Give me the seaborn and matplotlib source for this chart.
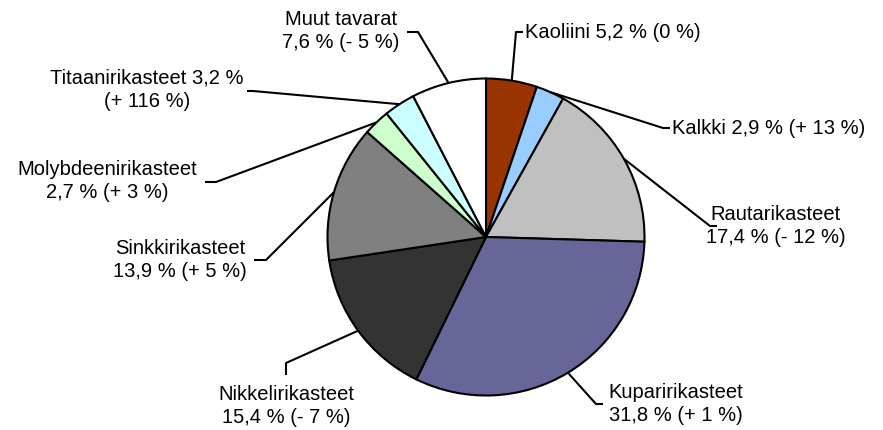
import numpy as np
import matplotlib
matplotlib.use("Agg")
import matplotlib.pyplot as plt
import seaborn as sns

categories = ["Kaoliini", "Kalkki", "Rautarikasteet", "Kuparirikasteet",
              "Nikkelirikasteet", "Sinkkirikasteet", "Molybdeenirikasteet",
              "Titaanirikasteet", "Muut tavarat"]
shares = [5.2, 2.9, 17.4, 31.8, 15.4, 13.9, 2.7, 3.2, 7.6]
labels = ["Kaoliini 5,2 % (0 %)",
          "Kalkki 2,9 % (+ 13 %)",
          "Rautarikasteet\n17,4 % (- 12 %)",
          "Kuparirikasteet\n31,8 % (+ 1 %)",
          "Nikkelirikasteet\n15,4 % (- 7 %)",
          "Sinkkirikasteet\n13,9 % (+ 5 %)",
          "Molybdeenirikasteet\n2,7 % (+ 3 %)",
          "Titaanirikasteet 3,2 %\n(+ 116 %)",
          "Muut tavarat\n7,6 % (- 5 %)"]
colors = ["#993300", "#99CCFF", "#C0C0C0", "#666699", "#333333",
          "#808080", "#CCFFCC", "#CCFFFF", "#FFFFFF"]

sns.set_theme(style="white")
plt.rcParams["font.family"] = ["Liberation Sans", "DejaVu Sans"]

W, H = 883, 430
fig = plt.figure(figsize=(W / 100, H / 100), dpi=100)
ax = fig.add_axes([0, 0, 1, 1])

cx, cy, R = 486, H - 237, 158.5
wedges, _ = ax.pie(shares, colors=colors, startangle=90, counterclock=False,
                   center=(cx, cy), radius=R, frame=True,
                   wedgeprops=dict(edgecolor="black", linewidth=1.5))
ax.set_xlim(0, W)
ax.set_ylim(0, H)
ax.set_aspect("equal")
ax.axis("off")

# layout: (elbow point, line end, text pos, ha) in pixel coords (y from top)
layout = [
    ((516, 32), (523, 32), (525, 32), "left"),
    ((663, 128), (670, 128), (672, 128), "left"),
    ((710, 226), (717, 226), (776, 226), "center"),
    ((596, 404), (603, 404), (676, 404), "center"),
    ((286, 363), (286, 375), (286, 406), "center"),
    ((266, 260), (254, 260), (180, 260), "center"),
    ((216, 182), (205, 182), (107, 181), "center"),
    ((253, 91), (247, 91), (147, 90), "center"),
    ((418, 32), (407, 32), (341, 31), "center"),
]

for w, lab, (elb, end, tp, ha) in zip(wedges, labels, layout):
    ang = np.deg2rad((w.theta1 + w.theta2) / 2)
    ax0 = cx + R * np.cos(ang)
    ay0 = cy + R * np.sin(ang)
    xs = [ax0, elb[0], end[0]]
    ys = [ay0, H - elb[1], H - end[1]]
    ax.plot(xs, ys, color="black", lw=1.5, solid_capstyle="butt")
    ax.text(tp[0], H - tp[1], lab, ha=ha, va="center", multialignment="center",
            fontsize=14.5, color="black", linespacing=1.3)

fig.savefig("out.png", dpi=100)
